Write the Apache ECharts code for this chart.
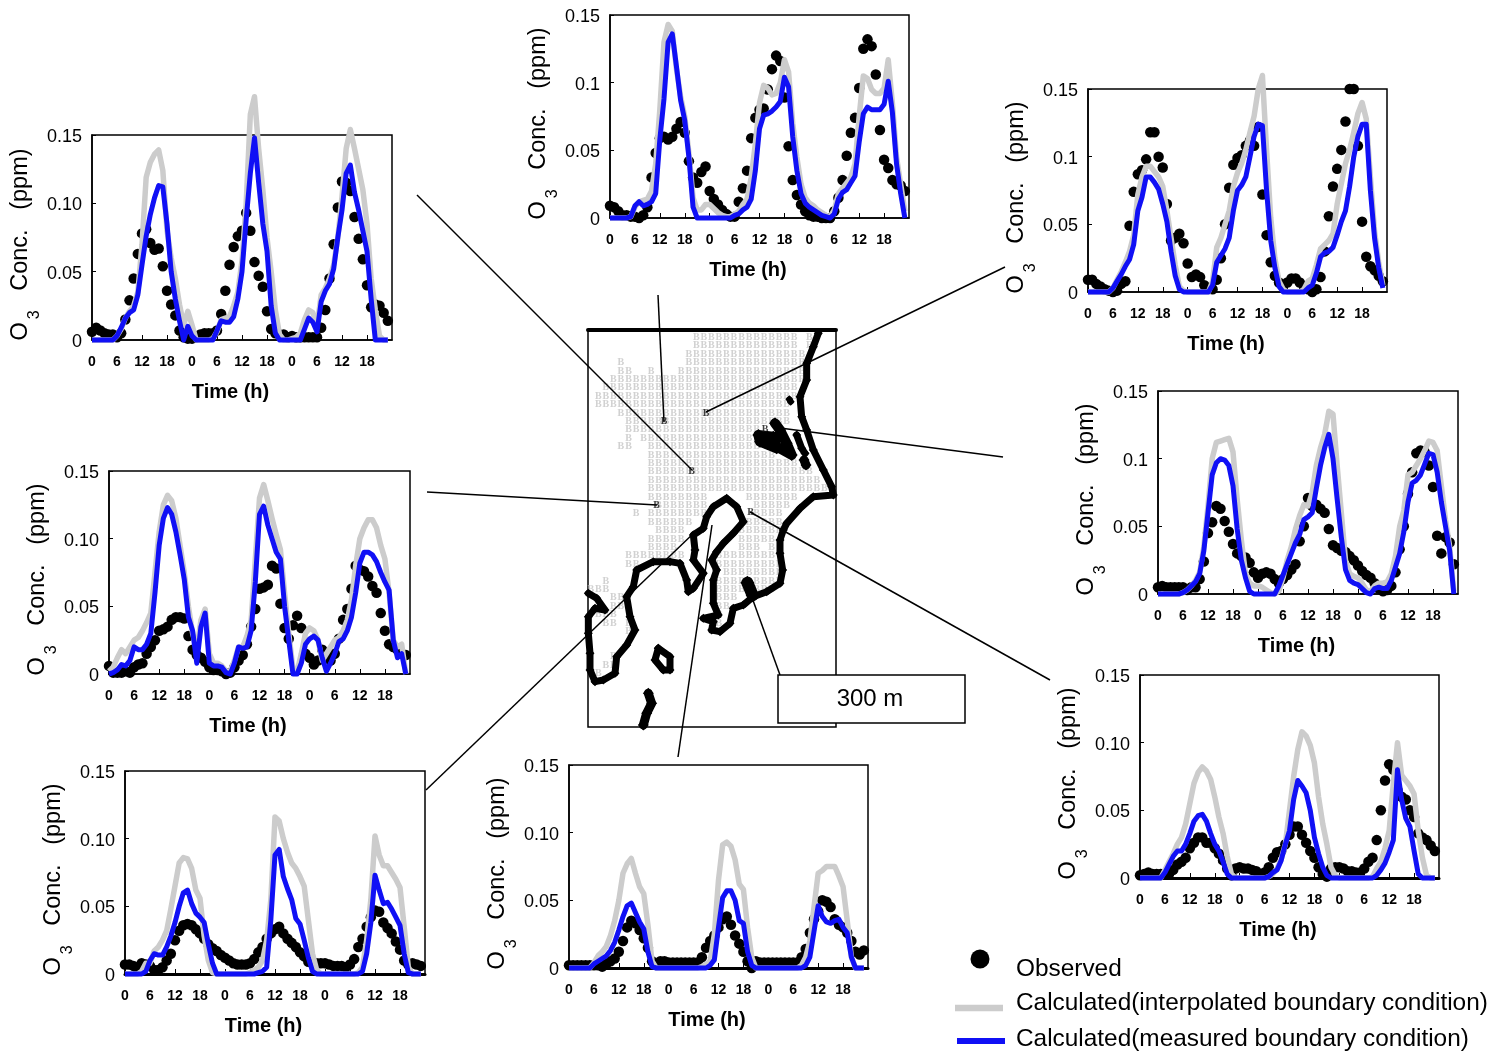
<!DOCTYPE html>
<html><head><meta charset="utf-8">
<style>html,body{margin:0;padding:0;background:#fff}#c{width:1493px;height:1053px}</style>
<script src="https://cdn.jsdelivr.net/npm/echarts@6/dist/echarts.min.js"></script></head>
<body><div id="c"></div>
<script>
// Ozone, ppb, hourly over three days
const p1Obs=[6,9,7,5,4,4,2,5,15,29,45,63,78,81,71,66,67,54,36,26,18,7,2,1,1,2,4,5,5,5,7,19,36,55,68,76,80,93,80,57,47,39,21,8,5,4,4,2,3,2,2,2,2,2,2,9,22,45,70,97,116,115,109,90,74,59,40,24,26,25,20,14];
const p1Int=[0,0,0,0,0,0,3,8,16,21,25,35,70,119,130,136,139,124,80,60,45,26,11,21,11,0,0,0,0,1,6,15,16,17,25,35,58,100,165,178,140,110,75,50,22,4,0,0,1,2,5,15,22,20,10,33,38,45,55,75,105,140,154,140,125,110,85,45,22,3,0,0];
const p1Mea=[0,0,0,0,0,0,3,9,16,20,22,33,55,76,92,104,113,112,85,50,30,14,0,10,3,0,0,0,0,0,7,14,13,13,17,30,50,88,122,148,115,85,65,25,5,0,0,0,0,0,0,8,16,13,6,28,36,41,52,75,95,122,128,108,95,80,65,30,0,0,0,0];
const p2Obs=[9,8,5,2,2,1,1,0,2,8,30,48,59,60,58,60,66,71,63,42,30,26,34,38,20,14,10,6,3,1,1,12,22,35,59,74,80,81,95,110,120,116,89,53,28,17,10,5,2,1,1,0,0,0,5,15,28,46,63,74,96,125,132,127,106,65,43,37,28,25,24,20];
const p2Int=[0,0,0,0,0,1,8,12,13,14,20,40,80,130,143,138,110,90,75,48,15,6,6,10,10,7,4,2,1,1,3,5,10,14,30,55,85,98,96,91,92,100,117,108,70,45,25,15,11,9,6,4,2,1,6,18,22,26,30,40,75,105,103,95,92,92,96,117,85,45,25,5];
const p2Mea=[0,0,0,0,0,1,9,12,9,10,12,18,58,88,130,136,112,87,72,45,8,0,0,0,0,0,0,0,0,0,2,3,6,8,14,35,66,76,77,79,82,86,104,97,60,35,18,11,8,6,4,2,1,0,3,14,19,21,26,31,56,77,82,80,80,80,84,101,78,40,18,0];
const p3Obs=[9,9,6,4,2,1,0,1,6,8,49,74,87,90,98,118,118,100,92,65,38,40,43,36,21,11,13,11,5,3,2,9,25,50,77,94,99,101,108,112,108,122,72,42,22,12,7,5,7,10,10,7,4,2,0,2,11,30,56,78,91,105,126,150,150,108,52,26,19,16,12,8];
const p3Int=[0,0,0,0,0,0,3,9,15,22,30,42,72,85,93,93,89,85,78,60,40,20,4,1,0,0,0,0,0,0,8,33,40,50,60,78,88,95,105,118,130,150,160,105,55,25,8,2,0,0,0,0,2,8,10,20,32,35,38,43,65,80,95,105,118,132,140,128,85,45,22,5];
const p3Mea=[0,0,0,0,0,0,3,8,13,19,24,35,60,70,85,85,81,76,65,52,30,12,2,0,0,0,0,0,0,0,5,22,27,32,40,60,75,79,85,100,115,124,123,75,38,18,4,0,0,0,0,0,0,3,5,14,26,29,30,33,42,52,60,78,100,115,124,124,75,40,18,3];
const p4Obs=[5,6,5,5,5,5,5,3,5,5,11,24,45,53,65,63,54,46,37,30,28,27,23,16,12,15,16,15,11,8,11,14,18,22,39,50,71,65,66,63,60,48,36,34,32,31,28,25,21,17,14,12,8,4,2,3,6,16,33,50,74,90,104,106,105,95,79,43,30,42,38,22];
const p4Int=[0,0,0,0,0,0,1,3,6,10,16,35,65,100,112,113,114,115,105,70,40,15,8,6,6,5,3,1,0,2,12,25,35,48,58,66,65,75,95,108,118,135,133,95,60,25,15,13,12,8,3,2,6,8,8,9,15,28,50,62,88,90,95,100,106,113,112,106,80,55,35,2];
const p4Mea=[0,0,0,0,0,0,1,3,6,9,15,32,60,88,97,100,99,95,80,48,25,12,2,0,0,0,0,0,0,6,14,22,30,38,44,55,57,60,78,95,108,118,100,70,42,18,10,8,7,4,1,0,4,5,4,4,10,20,30,46,68,82,84,88,96,104,103,90,68,50,32,0];
const p5Obs=[2,3,4,3,3,3,3,3,6,10,12,15,22,26,30,30,26,26,22,18,13,7,2,7,8,7,7,6,5,3,4,8,15,19,20,25,32,38,38,32,26,20,15,8,3,1,7,8,8,7,5,5,4,4,7,12,15,28,50,72,84,80,65,60,58,50,45,33,30,28,24,20];
const p5Int=[0,0,0,0,0,0,6,12,18,25,30,40,55,70,78,82,79,73,60,45,33,16,3,0,0,0,0,0,0,0,0,1,3,7,14,25,50,75,95,108,105,98,85,60,40,25,8,2,0,0,0,0,0,0,0,0,1,7,12,22,35,70,100,76,72,68,62,35,15,2,0,0];
const p5Mea=[0,0,0,0,0,0,4,10,16,20,20,25,33,42,46,47,42,33,25,20,12,3,0,0,0,0,0,0,0,0,0,1,4,6,13,25,35,58,72,68,63,50,30,18,8,2,0,0,0,0,0,0,0,0,0,0,0,2,6,11,19,28,80,58,44,38,20,3,0,0,0,0];
const p6Obs=[2,2,2,2,2,2,2,2,1,3,5,7,12,20,30,35,33,28,22,15,5,3,5,5,4,4,4,4,4,4,4,4,8,15,20,24,30,36,38,32,24,18,12,5,0,5,4,4,4,4,4,4,4,4,4,4,8,14,26,36,42,50,49,45,36,32,30,26,20,12,10,13];
const p6Int=[0,0,0,0,0,0,4,9,12,16,24,35,50,70,77,81,70,60,55,32,5,0,0,0,0,0,0,0,0,0,0,0,1,3,5,25,65,91,93,90,80,62,58,30,8,0,0,0,0,0,0,0,0,0,0,0,2,8,20,45,70,72,75,75,75,68,60,35,8,0,0,0];
const p6Mea=[0,0,0,0,0,0,3,5,7,9,13,19,28,38,46,48,41,34,29,12,1,0,0,0,0,0,0,0,0,0,0,0,0,0,2,6,30,52,57,57,50,35,33,12,2,0,0,0,0,0,0,0,0,0,0,0,0,2,8,27,46,38,34,33,35,36,30,26,8,0,0,0];
const p7Obs=[7,7,6,4,8,7,6,3,3,5,10,15,25,32,36,37,36,33,30,26,22,19,17,14,12,10,8,7,7,7,8,11,16,20,26,30,33,35,30,26,23,20,16,13,9,8,8,8,8,7,6,6,6,5,7,11,20,26,35,42,47,46,38,34,30,24,18,10,7,8,7,6];
const p7Int=[0,0,0,0,2,8,8,17,20,25,32,48,65,82,86,85,78,62,56,28,10,1,0,0,0,0,0,0,0,0,1,3,5,10,25,55,116,113,100,90,82,78,72,65,40,15,3,0,0,0,0,0,0,0,0,0,1,5,25,55,102,88,80,80,75,70,64,35,5,0,0,0];
const p7Mea=[0,0,0,0,0,2,10,15,14,14,20,28,38,50,60,62,52,45,42,38,22,8,0,0,0,0,0,0,0,0,0,0,1,2,5,40,88,92,72,63,55,41,37,25,12,2,0,0,0,0,0,0,0,0,0,0,0,2,15,38,73,62,52,53,48,42,36,15,1,0,0,0];
const p8Obs=[6,1,1,1,2,1,5,7,8,15,20,25,32,33,35,40,42,42,41,28,18,14,12,9,5,3,3,2,0,1,5,10,14,22,35,48,63,64,66,80,78,52,34,26,36,43,34,15,12,7,10,18,14,10,15,26,40,48,63,80,77,76,72,65,60,45,32,22,20,18,15,14];
const p8Int=[2,5,12,18,15,20,25,27,32,38,45,75,105,125,132,128,115,95,75,50,30,18,40,48,15,8,8,6,2,2,10,20,20,28,40,85,130,140,128,115,103,92,60,30,4,2,15,30,34,32,25,10,15,20,25,27,32,40,55,80,100,108,114,114,108,95,85,60,25,20,22,0];
const p8Mea=[0,1,3,7,6,10,20,18,18,22,30,60,95,115,123,118,105,88,70,42,32,8,35,45,8,6,6,5,1,0,8,20,19,20,32,68,118,124,110,100,90,85,50,25,0,0,8,22,26,28,25,12,2,8,15,24,26,32,42,60,82,90,90,88,83,75,68,62,25,12,15,0];

// Tick labels
const hourLabels=['0','6','12','18'];
const yLabelsTwoDp=['0','0.05','0.10','0.15'];
const yLabelsOneDp=['0','0.05','0.1','0.15'];
const seriesNames=['Observed','Calculated(interpolated boundary condition)','Calculated(measured boundary condition)'];

// Panel placement
const panels=[
 {obs:p1Obs,int:p1Int,mea:p1Mea,left:92,top:135,w:300,h:205,yl:yLabelsTwoDp,zero:1.5},
 {obs:p2Obs,int:p2Int,mea:p2Mea,left:610,top:15,w:299,h:203,yl:yLabelsOneDp,zero:1.5},
 {obs:p3Obs,int:p3Int,mea:p3Mea,left:1088,top:89,w:299,h:203,yl:yLabelsOneDp,zero:1.5},
 {obs:p4Obs,int:p4Int,mea:p4Mea,left:1158,top:391,w:300,h:203,yl:yLabelsOneDp,zero:1.5},
 {obs:p5Obs,int:p5Int,mea:p5Mea,left:1140,top:675,w:299,h:203,yl:yLabelsTwoDp,zero:3},
 {obs:p6Obs,int:p6Int,mea:p6Mea,left:569,top:765,w:299,h:203,yl:yLabelsTwoDp,zero:3},
 {obs:p7Obs,int:p7Int,mea:p7Mea,left:125,top:771,w:300,h:203,yl:yLabelsTwoDp,zero:3},
 {obs:p8Obs,int:p8Int,mea:p8Mea,left:109,top:471,w:301,h:203,yl:yLabelsTwoDp,zero:1.5}
];

// Map: grid-cell rows of boundary-condition "B" cells as [row,[firstCol,lastCol],...]
const mapRows=[[0,[13,26],[28,28]],[1,[13,26],[28,28]],[2,[12,27]],[3,[3,3],[12,27]],[4,[3,4],[7,7],[11,27]],[5,[2,27]],[6,[1,26]],[7,[0,26]],[8,[0,25]],[9,[3,25]],[10,[4,25]],[11,[4,21]],[12,[4,4],[6,21]],[13,[3,4],[7,21]],[14,[7,23]],[15,[7,26]],[16,[7,28]],[17,[7,29]],[18,[7,14],[15,30]],[19,[7,14],[20,26]],[20,[8,14],[21,25]],[21,[5,5],[7,14],[21,24]],[22,[7,12],[19,24]],[23,[8,11],[19,24]],[24,[7,11],[19,23]],[25,[7,10],[19,21],[23,23]],[26,[4,11],[16,23]],[27,[4,5],[16,24]],[28,[17,24]],[29,[1,1],[16,24]],[30,[-1,1],[16,19],[21,23]],[31,[2,3],[16,18]],[32,[2,3],[16,17]],[33,[0,2],[16,16]],[34,[1,2],[4,4],[15,16]],[35,[4,4]],[38,[2,2]],[39,[1,2]],[40,[0,0]]];
// Coastlines in map units
const coastMain=[[715,40],[700,80],[680,130],[680,180],[660,230],[665,290],[680,330],[700,390],[730,450],[755,500],[760,525],[700,530],[660,565],[620,610],[610,630],[600,660],[600,700],[608,750],[600,790],[560,815],[520,830],[490,855],[460,865],[450,910],[420,935],[395,930],[400,905],[370,895],[415,885],[400,850],[400,780],[410,750],[395,720],[410,695],[430,670],[460,640],[490,605],[470,560],[440,535],[400,560],[380,590],[370,625],[340,645],[345,690],[340,720],[370,760],[340,805],[325,815],[320,780],[300,730],[270,725],[220,725],[170,750],[160,800],[140,830],[150,890],[165,930],[140,975],[110,1010],[105,1060],[70,1080],[45,1085],[30,1050],[30,1000],[25,940],[25,890],[45,865],[75,870],[50,835],[25,820]];
const coastBayA=[[585,310],[600,330],[620,370],[635,405],[590,380],[580,350],[535,345],[540,365],[590,385]];
const coastBayB=[[650,345],[665,385],[675,400]];
const coastBayC=[[672,420],[678,435]];
const coastBayD=[[628,238],[632,245]];
const coastLake=[[235,985],[225,1020],[250,1050],[270,1050],[270,1010],[235,985]];
const coastSouth=[[205,1120],[215,1150],[200,1180],[190,1215]];
const coastCape=[[502,788],[518,826]];
const coasts=[[coastMain,7],[coastBayA,10],[coastBayB,7],[coastBayC,9],[coastBayD,6],[coastLake,7],[coastSouth,9],[coastCape,12]];
// Observation sites in map units
const sites=[[252,305],[378,280],[335,455],[230,555],[512,578],[555,328]];

const bCells=[];
mapRows.forEach(r=>{for(let i=1;i<r.length;i++)for(let c=r[i][0];c<=r[i][1];c++)bCells.push([55+22.6*c,52+25.2*r[0]]);});

const sans="'Liberation Sans',Arial,sans-serif";
const grid=[],xAxis=[],yAxis=[],series=[];
panels.forEach((p,i)=>{
 grid.push({left:p.left,top:p.top,width:p.w,height:p.h,show:true,borderColor:'#000',borderWidth:1.5,backgroundColor:'transparent'});
 xAxis.push({gridIndex:i,type:'value',min:0,max:72,interval:6,splitLine:{show:false},
  axisLine:{onZero:false,lineStyle:{color:'#000',width:p.zero}},axisTick:{inside:true,length:5,lineStyle:{color:'#000',width:1}},
  axisLabel:{color:'#000',fontFamily:sans,fontWeight:'bold',fontSize:14,margin:15,showMaxLabel:false,formatter:v=>v>=72?'':hourLabels[(v%24)/6]},
  name:'Time (h)',nameLocation:'middle',nameGap:42,nameTextStyle:{color:'#000',fontFamily:sans,fontWeight:'bold',fontSize:20,padding:[0,23,0,0]}});
 yAxis.push({gridIndex:i,type:'value',min:0,max:0.15,interval:0.05,splitLine:{show:false},
  axisLine:{onZero:false,lineStyle:{color:'#000',width:1.5}},axisTick:{inside:true,length:4,lineStyle:{color:'#000',width:1}},
  axisLabel:{margin:10,formatter:v=>'{v|'+p.yl[Math.round(v/0.05)]+'}',rich:{v:{color:'#000',fontFamily:sans,fontSize:18,padding:[4,0,0,0]}}},
  name:'{o|O}{s|3}{o|   Conc.   (ppm)}',nameLocation:'middle',nameRotate:90,nameGap:47,
  nameTextStyle:{color:'#000',padding:[0,0,0,-14],rich:{o:{fontFamily:sans,fontSize:23.5,color:'#000'},s:{fontFamily:sans,fontSize:16,color:'#000',verticalAlign:'bottom',padding:[30,0,0,3]}}}});
 const toXY=a=>a.map((v,h)=>[h,v/1000]);
 series.push({name:seriesNames[0],type:'scatter',xAxisIndex:i,yAxisIndex:i,data:toXY(p.obs),symbol:'circle',symbolSize:10.5,itemStyle:{color:'#000',opacity:1},clip:false,silent:true,z:2});
 series.push({name:seriesNames[1],type:'line',xAxisIndex:i,yAxisIndex:i,data:toXY(p.int),showSymbol:false,symbol:'none',lineStyle:{color:'#cccccc',width:5.5,join:'round'},clip:false,silent:true,z:3});
 series.push({name:seriesNames[2],type:'line',xAxisIndex:i,yAxisIndex:i,data:toXY(p.mea),showSymbol:false,symbol:'none',lineStyle:{color:'#1010f5',width:5,join:'round'},clip:false,silent:true,z:4});
});
// Map grid
const m=panels.length;
grid.push({left:588,top:330,width:248,height:397,show:true,borderColor:'#000',borderWidth:1.5,backgroundColor:'transparent'});
xAxis.push({gridIndex:m,type:'value',min:24,max:768,position:'top',axisLine:{onZero:false,lineStyle:{color:'#000',width:4}},axisTick:{show:false},axisLabel:{show:false},splitLine:{show:false}});
yAxis.push({gridIndex:m,type:'value',min:30,max:1221,inverse:true,axisLine:{show:false},axisTick:{show:false},axisLabel:{show:false},splitLine:{show:false}});
series.push({name:'B cells',type:'scatter',xAxisIndex:m,yAxisIndex:m,data:bCells,symbol:'rect',symbolSize:1,itemStyle:{color:'rgba(0,0,0,0)'},silent:true,z:1,
 label:{show:true,position:'inside',formatter:'B',color:'#c6c6c6',fontFamily:"'Liberation Serif',serif",fontWeight:'bold',fontSize:10}});
coasts.forEach((c,i)=>series.push({name:'Coast '+(i+1),type:'line',xAxisIndex:m,yAxisIndex:m,data:c[0],symbol:'diamond',symbolSize:c[1]+2,showSymbol:true,itemStyle:{color:'#000',opacity:1},lineStyle:{color:'#000',width:c[1],join:'round',cap:'round'},silent:true,z:2}));
series.push({name:'Sites',type:'scatter',xAxisIndex:m,yAxisIndex:m,data:sites,symbol:'rect',symbolSize:1,itemStyle:{color:'rgba(0,0,0,0)'},silent:true,z:5,
 label:{show:true,position:'inside',formatter:'B',color:'#111',fontFamily:"'Liberation Serif',serif",fontWeight:'bold',fontSize:10}});

// Annotations
const leaders=[[417,195,692,470],[658,295,664,422],[1005,267,706,412],[1003,457,780,428],[1050,680,750,512],[678,757,712,525],[426,790,697,530],[427,492,657,505],[750,592,780,675]];
const graphic=leaders.map(l=>({type:'line',z:50,silent:true,shape:{x1:l[0],y1:l[1],x2:l[2],y2:l[3]},style:{stroke:'#000',lineWidth:1.5}}));
graphic.push({type:'rect',z:60,silent:true,shape:{x:778,y:675,width:187,height:48},style:{fill:'#fff',stroke:'#000',lineWidth:1.5}});
graphic.push({type:'text',z:61,silent:true,x:870,y:699,style:{text:'300 m',fill:'#000',font:"24px 'Liberation Sans'",textAlign:'center',textVerticalAlign:'middle'}});
// Legend
graphic.push({type:'circle',z:60,silent:true,shape:{cx:980,cy:959,r:9.5},style:{fill:'#000'}});
graphic.push({type:'line',z:60,silent:true,shape:{x1:955,y1:1008,x2:1003,y2:1008},style:{stroke:'#cccccc',lineWidth:6.5}});
graphic.push({type:'line',z:60,silent:true,shape:{x1:957,y1:1041,x2:1005,y2:1041},style:{stroke:'#1010f5',lineWidth:6}});
[[seriesNames[0],969],[seriesNames[1],1003],[seriesNames[2],1039]].forEach(t=>graphic.push({type:'text',z:61,silent:true,x:1016,y:t[1],style:{text:t[0],fill:'#000',font:"24.4px 'Liberation Sans'",textAlign:'left',textVerticalAlign:'middle'}}));

const chart=echarts.init(document.getElementById('c'),null,{renderer:'canvas'});
chart.setOption({animation:false,backgroundColor:'#fff',grid,xAxis,yAxis,series,graphic,tooltip:{show:false}});
</script></body></html>
